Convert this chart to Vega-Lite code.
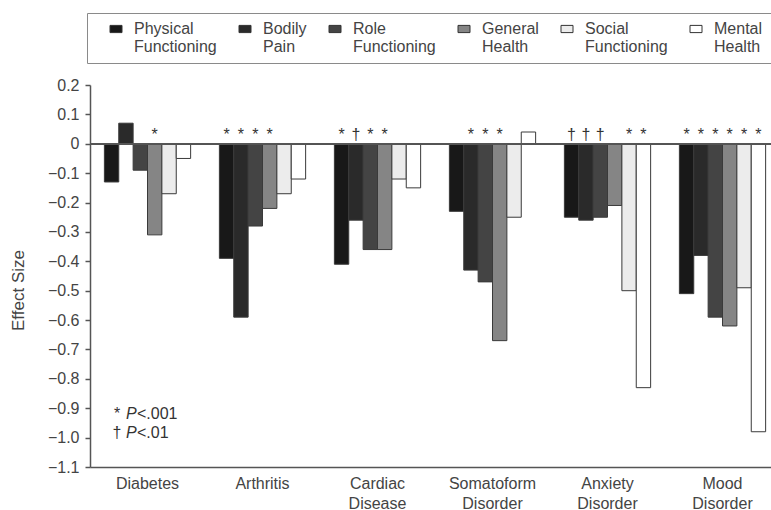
{
  "$schema": "https://vega.github.io/schema/vega-lite/v6.json",
  "width": 681,
  "height": 382,
  "autosize": {"type": "none"},
  "padding": {"left": 90, "top": 85, "right": 0, "bottom": 43},
  "background": "white",
  "config": {
    "font": "Liberation Sans",
    "view": {"stroke": null},
    "axis": {"grid": false},
    "axisY": {"labelOverlap": false, "labelBound": false, "labelFlush": false, "tickCount": 30}
  },
  "datasets": {
    "effects": [
      {"condition": "Diabetes", "measure": "Physical Functioning", "effect": -0.13, "sig": ""},
      {"condition": "Diabetes", "measure": "Bodily Pain", "effect": 0.07, "sig": ""},
      {"condition": "Diabetes", "measure": "Role Functioning", "effect": -0.09, "sig": ""},
      {"condition": "Diabetes", "measure": "General Health", "effect": -0.31, "sig": "*"},
      {"condition": "Diabetes", "measure": "Social Functioning", "effect": -0.17, "sig": ""},
      {"condition": "Diabetes", "measure": "Mental Health", "effect": -0.05, "sig": ""},
      {"condition": "Arthritis", "measure": "Physical Functioning", "effect": -0.39, "sig": "*"},
      {"condition": "Arthritis", "measure": "Bodily Pain", "effect": -0.59, "sig": "*"},
      {"condition": "Arthritis", "measure": "Role Functioning", "effect": -0.28, "sig": "*"},
      {"condition": "Arthritis", "measure": "General Health", "effect": -0.22, "sig": "*"},
      {"condition": "Arthritis", "measure": "Social Functioning", "effect": -0.17, "sig": ""},
      {"condition": "Arthritis", "measure": "Mental Health", "effect": -0.12, "sig": ""},
      {"condition": "Cardiac Disease", "measure": "Physical Functioning", "effect": -0.41, "sig": "*"},
      {"condition": "Cardiac Disease", "measure": "Bodily Pain", "effect": -0.26, "sig": "†"},
      {"condition": "Cardiac Disease", "measure": "Role Functioning", "effect": -0.36, "sig": "*"},
      {"condition": "Cardiac Disease", "measure": "General Health", "effect": -0.36, "sig": "*"},
      {"condition": "Cardiac Disease", "measure": "Social Functioning", "effect": -0.12, "sig": ""},
      {"condition": "Cardiac Disease", "measure": "Mental Health", "effect": -0.15, "sig": ""},
      {"condition": "Somatoform Disorder", "measure": "Physical Functioning", "effect": -0.23, "sig": ""},
      {"condition": "Somatoform Disorder", "measure": "Bodily Pain", "effect": -0.43, "sig": "*"},
      {"condition": "Somatoform Disorder", "measure": "Role Functioning", "effect": -0.47, "sig": "*"},
      {"condition": "Somatoform Disorder", "measure": "General Health", "effect": -0.67, "sig": "*"},
      {"condition": "Somatoform Disorder", "measure": "Social Functioning", "effect": -0.25, "sig": ""},
      {"condition": "Somatoform Disorder", "measure": "Mental Health", "effect": 0.04, "sig": ""},
      {"condition": "Anxiety Disorder", "measure": "Physical Functioning", "effect": -0.25, "sig": "†"},
      {"condition": "Anxiety Disorder", "measure": "Bodily Pain", "effect": -0.26, "sig": "†"},
      {"condition": "Anxiety Disorder", "measure": "Role Functioning", "effect": -0.25, "sig": "†"},
      {"condition": "Anxiety Disorder", "measure": "General Health", "effect": -0.21, "sig": ""},
      {"condition": "Anxiety Disorder", "measure": "Social Functioning", "effect": -0.5, "sig": "*"},
      {"condition": "Anxiety Disorder", "measure": "Mental Health", "effect": -0.83, "sig": "*"},
      {"condition": "Mood Disorder", "measure": "Physical Functioning", "effect": -0.51, "sig": "*"},
      {"condition": "Mood Disorder", "measure": "Bodily Pain", "effect": -0.38, "sig": "*"},
      {"condition": "Mood Disorder", "measure": "Role Functioning", "effect": -0.59, "sig": "*"},
      {"condition": "Mood Disorder", "measure": "General Health", "effect": -0.62, "sig": "*"},
      {"condition": "Mood Disorder", "measure": "Social Functioning", "effect": -0.49, "sig": "*"},
      {"condition": "Mood Disorder", "measure": "Mental Health", "effect": -0.98, "sig": "*"}
    ]
  },
  "data": {"name": "effects"},
  "layer": [
    {
      "mark": {"type": "bar", "stroke": "#3a3a3a", "strokeWidth": 1},
      "encoding": {
        "x": {
          "field": "condition", "type": "nominal",
          "sort": ["Diabetes", "Arthritis", "Cardiac Disease", "Somatoform Disorder", "Anxiety Disorder", "Mood Disorder"],
          "scale": {"range": [0, 690], "paddingInner": 0.25, "paddingOuter": 0.125},
          "axis": {
            "title": null, "orient": "bottom", "ticks": false, "labelAngle": 0,
            "domainColor": "#555", "domainWidth": 1.5,
            "labelFontSize": 16, "labelColor": "#444", "labelPadding": 8, "labelLineHeight": 20,
            "labelExpr": "split(datum.label, ' ')"
          }
        },
        "xOffset": {
          "field": "measure", "type": "nominal",
          "sort": ["Physical Functioning", "Bodily Pain", "Role Functioning", "General Health", "Social Functioning", "Mental Health"],
          "scale": {"paddingInner": 0, "paddingOuter": 0}
        },
        "y": {
          "field": "effect", "type": "quantitative",
          "scale": {"domain": [-1.1, 0.2], "nice": false, "zero": false},
          "axis": {
            "values": [0.2, 0.1, 0, -0.1, -0.2, -0.3, -0.4, -0.5, -0.6, -0.7, -0.8, -0.9, -1.0, -1.1],
            "tickCount": 30,
            "labelExpr": "datum.value == 0 ? '0' : format(datum.value, '.1f')",
            "labelOverlap": false,
            "domainColor": "#555", "domainWidth": 1.5,
            "tickColor": "#555", "tickWidth": 1.5, "tickSize": 5,
            "labelFontSize": 16, "labelColor": "#444", "labelPadding": 6,
            "title": "Effect Size", "titleFontSize": 17, "titleFontWeight": "normal", "titleColor": "#444",
            "titleX": -72, "titleY": 205, "titleAngle": 270, "titleBaseline": "middle", "titleAlign": "center"
          }
        },
        "y2": {"datum": 0},
        "color": {
          "field": "measure", "type": "nominal",
          "sort": ["Physical Functioning", "Bodily Pain", "Role Functioning", "General Health", "Social Functioning", "Mental Health"],
          "scale": {
            "domain": ["Physical Functioning", "Bodily Pain", "Role Functioning", "General Health", "Social Functioning", "Mental Health"],
            "range": ["#181818", "#2a2a2a", "#444444", "#858585", "#ececec", "#ffffff"]
          },
          "legend": {
            "title": null, "orient": "none", "legendX": -3, "legendY": -72,
            "direction": "horizontal", "columns": 6, "padding": 8,
            "strokeColor": "#8a8a8a",
            "labelExpr": "split(datum.label, ' ')",
            "labelFontSize": 16, "labelColor": "#444", "labelLineHeight": 19, "labelLimit": 200,
            "labelOffset": 10, "columnPadding": 7,
            "symbolType": "M-1,-0.6H1V0.6H-1Z", "symbolSize": 144,
            "symbolStrokeColor": "#333", "symbolStrokeWidth": 1, "symbolOffset": 13
          }
        }
      }
    },
    {
      "mark": {"type": "rule", "color": "#555", "strokeWidth": 1.5},
      "encoding": {"y": {"datum": 0}}
    },
    {
      "transform": [{"filter": "datum.sig != ''"}],
      "mark": {"type": "text", "fontSize": 16, "color": "#333", "baseline": "alphabetic"},
      "encoding": {
        "x": {"field": "condition", "type": "nominal", "sort": ["Diabetes", "Arthritis", "Cardiac Disease", "Somatoform Disorder", "Anxiety Disorder", "Mood Disorder"]},
        "xOffset": {"field": "measure", "type": "nominal", "sort": ["Physical Functioning", "Bodily Pain", "Role Functioning", "General Health", "Social Functioning", "Mental Health"]},
        "y": {"datum": 0.012},
        "text": {"field": "sig"}
      }
    },
    {
      "data": {"values": [{}]},
      "mark": {"type": "text", "text": ["*", "†"], "align": "center", "baseline": "alphabetic", "fontSize": 16, "lineHeight": 19, "dx": -30.5, "color": "#333"},
      "encoding": {"x": {"datum": "Diabetes"}, "y": {"datum": -0.937}}
    },
    {
      "data": {"values": [{}]},
      "mark": {"type": "text", "text": ["P", "P"], "align": "left", "baseline": "alphabetic", "fontSize": 16, "fontStyle": "italic", "lineHeight": 19, "dx": -21.5, "color": "#333"},
      "encoding": {"x": {"datum": "Diabetes"}, "y": {"datum": -0.937}}
    },
    {
      "data": {"values": [{}]},
      "mark": {"type": "text", "text": ["<.001", "<.01"], "align": "left", "baseline": "alphabetic", "fontSize": 16, "lineHeight": 19, "dx": -10.5, "color": "#333"},
      "encoding": {"x": {"datum": "Diabetes"}, "y": {"datum": -0.937}}
    }
  ]
}
